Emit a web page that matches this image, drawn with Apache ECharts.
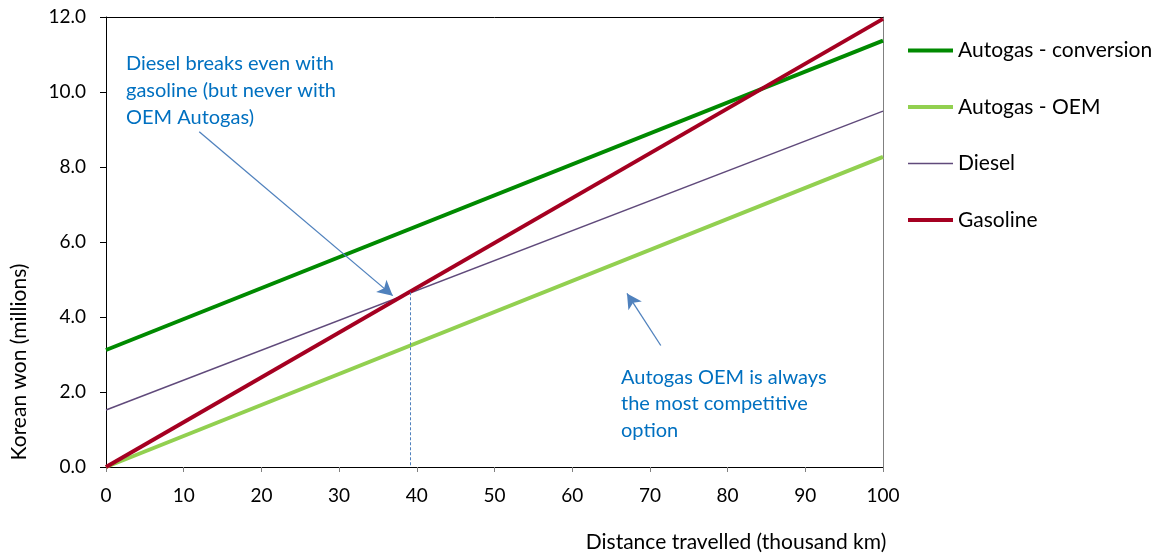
<!DOCTYPE html>
<html>
<head>
<meta charset="utf-8">
<script src="https://cdn.jsdelivr.net/npm/echarts@6/dist/echarts.min.js"></script>
<style>
html,body{margin:0;padding:0;background:#fff;}
#chart{width:1161px;height:555px;}
</style>
</head>
<body>
<div id="chart"></div>
<script>
// ---- data ----
const distance = [0, 100];                 // thousand km
const autogasConversion = [3.12, 11.37];   // Korean won (millions)
const autogasOEM = [0.0, 8.27];
const diesel = [1.52, 9.49];
const gasoline = [0.0, 11.95];
const seriesNames = ['Autogas - conversion', 'Autogas - OEM', 'Diesel', 'Gasoline'];
const xTickLabels = ['0','10','20','30','40','50','60','70','80','90','100'];
const yTickLabels = ['0.0','2.0','4.0','6.0','8.0','10.0','12.0'];
const xAxisTitle = 'Distance travelled (thousand km)';
const yAxisTitle = 'Korean won (millions)';
const note1 = 'Diesel breaks even with\ngasoline (but never with\nOEM Autogas)';
const note2 = 'Autogas OEM is always\nthe most competitive\noption';
// annotation anchors in data coordinates
const arrow1 = [[12.0, 8.94], [36.9, 4.57]];
const arrow2 = [[71.4, 3.24], [67.05, 4.63]];
const breakEven = [[39.1, 4.66], [39.1, 0]];

const FONT = 'Lato';
const COLORS = ['#008A00', '#92D050', '#604A7B', '#A50021'];
const WIDTHS = [4, 4, 1.5, 4];
const pair = (xs, ys) => xs.map((x, i) => [x, ys[i]]);

const chart = echarts.init(document.getElementById('chart'), null, {renderer: 'canvas'});
const option = {
  backgroundColor: '#fff',
  animation: false,
  grid: {left: 106, right: 278, top: 17, bottom: 88, containLabel: false},
  legend: {
    orient: 'vertical',
    left: 901, top: 35,
    itemWidth: 45, itemHeight: 20, itemGap: 35.5,
    itemStyle: {opacity: 0},
    textStyle: {fontFamily: FONT, fontSize: 21, color: '#000', lineHeight: 20},
    data: seriesNames.map((n, i) => ({name: n, lineStyle: {width: WIDTHS[i], color: COLORS[i]}, itemStyle: {opacity: 0}}))
  },
  xAxis: [{
    type: 'value', min: 0, max: 100, interval: 10,
    axisLine: {show: true, lineStyle: {color: '#000', width: 1}},
    axisTick: {show: true, length: 5, lineStyle: {color: '#808080'}},
    axisLabel: {fontFamily: FONT, fontSize: 19, color: '#000', margin: 19,
      formatter: (v) => xTickLabels[Math.round(v / 10)]},
    splitLine: {show: false}
  }, {
    type: 'value', position: 'top', min: 0, max: 100,
    axisLine: {show: true, onZero: false, lineStyle: {color: '#000', width: 1}},
    axisTick: {show: false}, axisLabel: {show: false}, splitLine: {show: false}
  }],
  yAxis: [{
    type: 'value', min: 0, max: 12, interval: 2,
    axisLine: {show: true, lineStyle: {color: '#000', width: 1}},
    axisTick: {show: true, length: 6, lineStyle: {color: '#000'}},
    axisLabel: {fontFamily: FONT, fontSize: 19, color: '#000', margin: 20,
      formatter: (v) => yTickLabels[Math.round(v / 2)]},
    splitLine: {show: false}
  }, {
    type: 'value', position: 'right', min: 0, max: 12,
    axisLine: {show: true, onZero: false, lineStyle: {color: '#808080', width: 1}},
    axisTick: {show: false}, axisLabel: {show: false}, splitLine: {show: false}
  }],
  series: [
    {name: seriesNames[0], type: 'line', data: pair(distance, autogasConversion), symbol: 'none',
     lineStyle: {color: COLORS[0], width: WIDTHS[0]}, itemStyle: {color: COLORS[0]}, z: 3},
    {name: seriesNames[1], type: 'line', data: pair(distance, autogasOEM), symbol: 'none',
     lineStyle: {color: COLORS[1], width: WIDTHS[1]}, itemStyle: {color: COLORS[1]}, z: 3},
    {name: seriesNames[2], type: 'line', data: pair(distance, diesel), symbol: 'none',
     lineStyle: {color: COLORS[2], width: WIDTHS[2]}, itemStyle: {color: COLORS[2]}, z: 3},
    {name: seriesNames[3], type: 'line', data: pair(distance, gasoline), symbol: 'none',
     lineStyle: {color: COLORS[3], width: WIDTHS[3]}, itemStyle: {color: COLORS[3]}, z: 4,
     markLine: {
       silent: true, animation: false,
       label: {show: false},
       emphasis: {disabled: true},
       data: [
         [{coord: arrow1[0], symbol: 'none'}, {coord: arrow1[1], symbol: 'arrow', symbolSize: [12, 15],
           lineStyle: {color: '#4F81BD', width: 1.3, type: 'solid'}}],
         [{coord: arrow2[0], symbol: 'none'}, {coord: arrow2[1], symbol: 'arrow', symbolSize: [12, 15],
           lineStyle: {color: '#4F81BD', width: 1.3, type: 'solid'}}],
         [{coord: breakEven[0], symbol: 'none'}, {coord: breakEven[1], symbol: 'none',
           lineStyle: {color: '#4F81BD', width: 1, type: [3, 2]}}]
       ]
     }}
  ],
  graphic: [
    {type: 'text', left: 126, top: 50, z: 10,
     style: {text: note1, fontFamily: FONT, fontSize: 20, lineHeight: 27, fill: '#0070C0'}},
    {type: 'text', left: 621, top: 364, z: 10,
     style: {text: note2, fontFamily: FONT, fontSize: 20, lineHeight: 26.5, fill: '#0070C0'}},
    {type: 'text', x: 736, y: 542, z: 10,
     style: {text: xAxisTitle, fontFamily: FONT, fontSize: 21, fill: '#000', align: 'center', verticalAlign: 'middle'}},
    {type: 'text', x: 19, y: 362, rotation: Math.PI / 2, z: 10,
     style: {text: yAxisTitle, fontFamily: FONT, fontSize: 21, fill: '#000', align: 'center', verticalAlign: 'middle'}}
  ]
};
chart.setOption(option);
</script>
</body>
</html>
